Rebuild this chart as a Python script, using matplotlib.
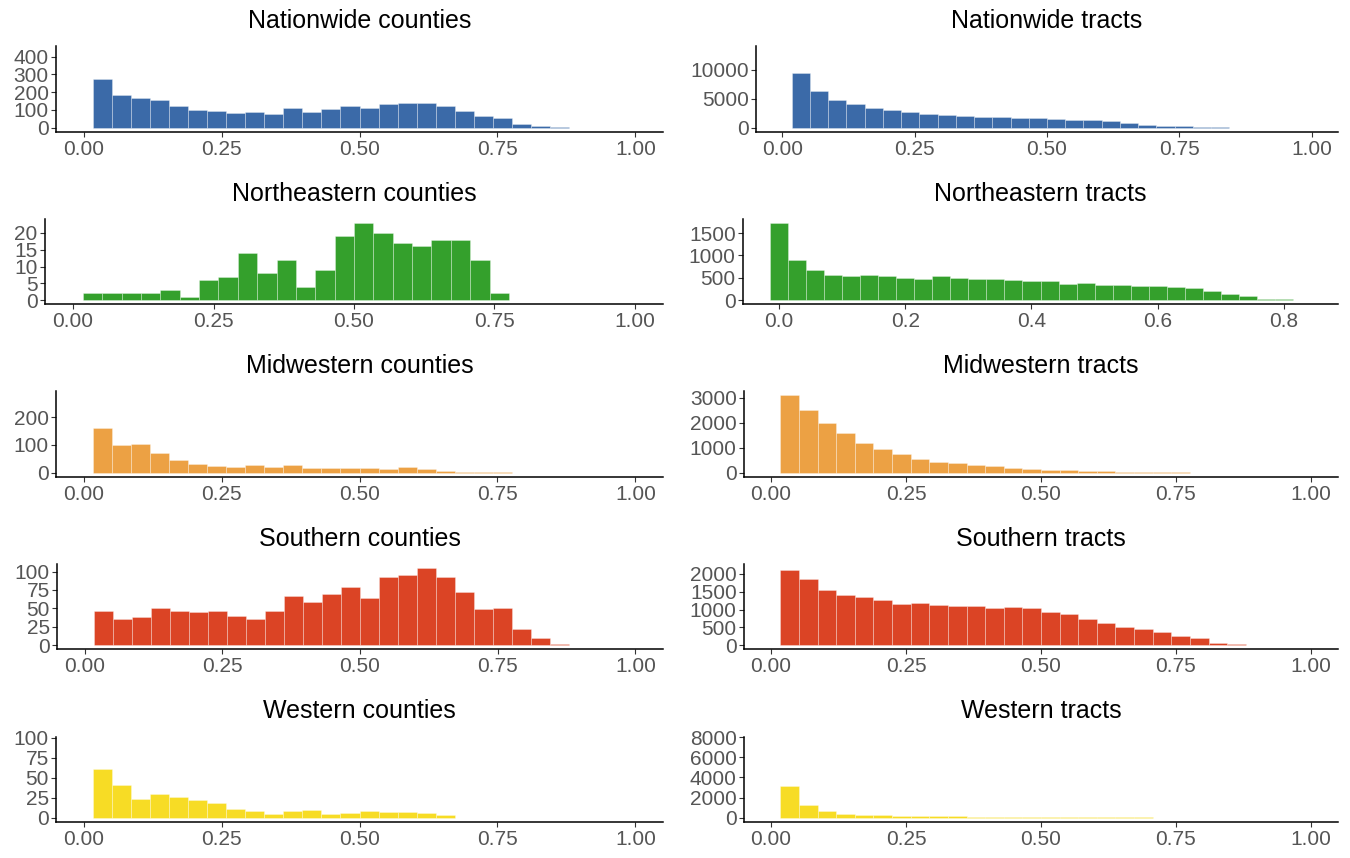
import matplotlib
matplotlib.use("Agg")
import matplotlib.pyplot as plt
import numpy as np
from matplotlib.ticker import FormatStrFormatter, MultipleLocator

plt.rcParams['font.family'] = ['Liberation Sans', 'DejaVu Sans']

# bin counts, one value per bin starting at the second bin (center 1/29)
nation_counties = [273, 181, 167, 154, 121, 98, 96, 81, 87, 79, 113, 87, 104,
                   119, 112, 131, 138, 138, 121, 96, 63, 54, 19, 8, 2]
nation_tracts = [9400, 6300, 4760, 4000, 3400, 3000, 2650, 2400, 2100, 2000,
                 1900, 1760, 1700, 1590, 1470, 1400, 1240, 1060, 760, 530,
                 300, 240, 100, 50, 20]
ne_counties = [2, 2, 2, 2, 3, 1, 6, 7, 14, 8, 12, 4, 9, 19, 23, 20, 17, 16,
               18, 18, 12, 2]
# northeastern tracts use their own bins, first bin centered on 0
ne_tracts = [1730, 900, 665, 570, 545, 555, 540, 490, 470, 545, 490, 465, 465,
             455, 425, 420, 370, 375, 345, 340, 320, 320, 290, 275, 200, 135,
             95, 35, 15, 5]
mw_counties = [160, 100, 102, 70, 45, 30, 25, 22, 28, 21, 27, 15, 18, 15, 16,
               12, 22, 14, 6, 4, 4, 1]
mw_tracts = [3100, 2500, 2000, 1600, 1200, 950, 750, 550, 420, 380, 320, 250,
             200, 150, 120, 100, 80, 70, 40, 25, 15, 10, 5, 2]
s_counties = [47, 36, 38, 50, 47, 45, 46, 40, 36, 46, 67, 59, 70, 79, 64, 93,
              95, 105, 93, 72, 49, 51, 22, 10, 1]
s_tracts = [2100, 1870, 1550, 1415, 1340, 1275, 1160, 1180, 1140, 1100, 1095,
            1045, 1085, 1040, 935, 880, 735, 630, 510, 445, 380, 255, 200, 60,
            40, 10, 5]
w_counties = [61, 41, 24, 30, 26, 22, 18, 11, 8, 5, 8, 9, 5, 6, 8, 7, 7, 6, 3]
w_tracts = [3200, 1230, 670, 400, 270, 230, 200, 170, 140, 120, 100, 90, 80,
            70, 60, 55, 50, 40, 30, 20, 10]

titles = ["Nationwide counties", "Nationwide tracts",
          "Northeastern counties", "Northeastern tracts",
          "Midwestern counties", "Midwestern tracts",
          "Southern counties", "Southern tracts",
          "Western counties", "Western tracts"]
counts = [nation_counties, nation_tracts, ne_counties, ne_tracts,
          mw_counties, mw_tracts, s_counties, s_tracts, w_counties, w_tracts]
# upper end of each count scale (includes bins cut off by the x limits)
y_max = [435, 13300, 23, 1730, 279, 3100, 105, 2170, 97, 7700]
y_step = [100, 5000, 5, 500, 100, 1000, 25, 500, 25, 2000]

colors = ["#3b6aa8", "#3b6aa8", "#34a02c", "#34a02c", "#eca144", "#eca144",
          "#db4425", "#db4425", "#f7dc25", "#f7dc25"]

W, H = 1350, 858
fig = plt.figure(figsize=(W / 100, H / 100), dpi=100)

row_bottom = [131.5, 304, 476.5, 649, 821.5]
panel_h = 85
left_x0 = [56, 45, 56, 57, 56]
right_x0 = [756, 743, 744, 744, 744]

for i, (title, c) in enumerate(zip(titles, counts)):
    row, col = divmod(i, 2)
    x0 = left_x0[row] if col == 0 else right_x0[row]
    x1 = 663 if col == 0 else 1338
    ax = fig.add_axes([x0 / W, 1 - row_bottom[row] / H,
                       (x1 - x0) / W, panel_h / H])

    if title == "Northeastern tracts":
        width = 0.829 / 29
        centers = np.arange(len(c)) * width
    else:
        width = 1 / 29
        centers = np.arange(1, len(c) + 1) * width
    edges = np.append(centers - width / 2, centers[-1] + width / 2)
    ax.hist(centers, bins=edges, weights=c, color=colors[i],
            edgecolor=(1, 1, 1, 0.3), linewidth=0.7)

    if title == "Northeastern tracts":
        lo, hi = edges[0], edges[-1]
        pad = 0.05 * (hi - lo)
        ax.set_xlim(lo - pad, hi + pad)
        ax.xaxis.set_major_locator(MultipleLocator(0.2))
        ax.xaxis.set_major_formatter(FormatStrFormatter('%.1f'))
    else:
        ax.set_xlim(-0.05, 1.05)
        ax.xaxis.set_major_locator(MultipleLocator(0.25))
        ax.xaxis.set_major_formatter(FormatStrFormatter('%.2f'))

    m = y_max[i]
    ax.set_ylim(-0.05 * m, 1.05 * m)
    ax.yaxis.set_major_locator(MultipleLocator(y_step[i]))
    ax.yaxis.set_major_formatter(FormatStrFormatter('%d'))

    for s in ['top', 'right']:
        ax.spines[s].set_visible(False)
    for s in ['left', 'bottom']:
        ax.spines[s].set_linewidth(1.1)
        ax.spines[s].set_color('black')
    ax.tick_params(length=3.8, width=0.8, color='#333333', labelcolor='#555555',
                   labelsize=15, pad=2)
    ax.tick_params(axis='y', pad=1.5)
    ax.set_title(title, fontsize=18, color='black', pad=13)

fig.savefig("out.png", dpi=100)
